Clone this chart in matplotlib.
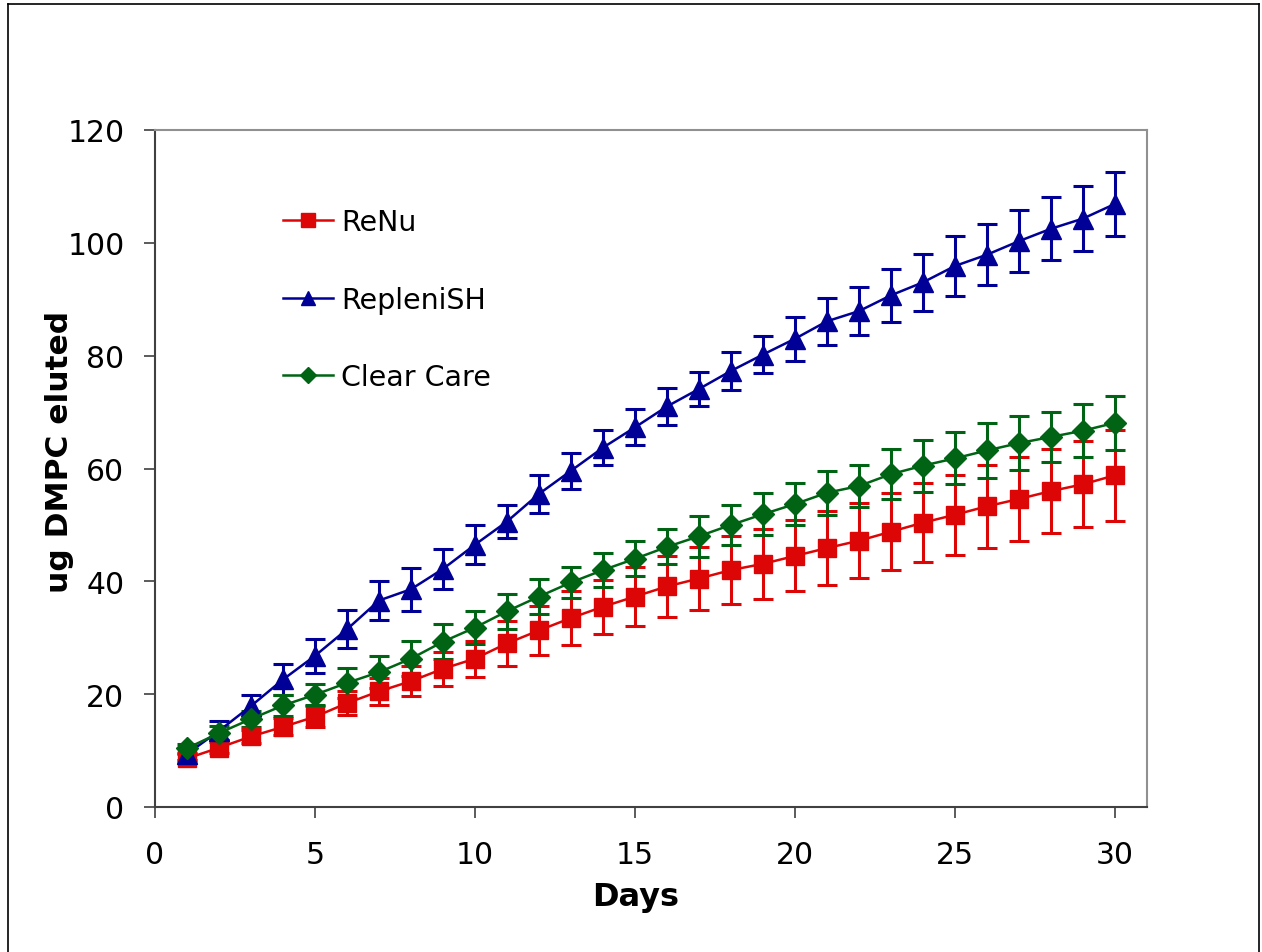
import matplotlib
matplotlib.use("Agg")
import matplotlib.pyplot as plt
from matplotlib.lines import Line2D
import numpy as np

days = list(range(1, 31))

renu = [8.6, 10.5, 12.5, 14.2, 16.0, 18.4, 20.5, 22.3, 24.5, 26.3,
        29.0, 31.3, 33.5, 35.5, 37.3, 39.1, 40.5, 42.0, 43.1, 44.5,
        45.9, 47.2, 48.8, 50.4, 51.8, 53.3, 54.6, 56.0, 57.2, 58.8]
renu_err = [0.8, 1.0, 1.2, 1.5, 1.9, 2.1, 2.4, 2.7, 3.0, 3.2,
            4.0, 4.3, 4.7, 4.8, 5.2, 5.4, 5.6, 6.0, 6.2, 6.3,
            6.5, 6.6, 6.8, 7.0, 7.1, 7.4, 7.5, 7.5, 7.6, 8.1]

repleni = [9.4, 13.5, 17.9, 22.6, 26.8, 31.5, 36.6, 38.6, 42.2, 46.5,
           50.6, 55.5, 59.6, 63.7, 67.3, 71.0, 74.1, 77.3, 80.2, 83.0,
           86.1, 87.9, 90.7, 93.0, 95.9, 97.9, 100.3, 102.5, 104.3, 106.9]
repleni_err = [1.0, 1.7, 1.9, 2.8, 3.0, 3.4, 3.5, 3.8, 3.5, 3.4,
               2.9, 3.3, 3.2, 3.1, 3.2, 3.3, 3.0, 3.3, 3.3, 3.9,
               4.2, 4.3, 4.7, 5.1, 5.3, 5.4, 5.5, 5.6, 5.8, 5.7]

clear = [10.4, 13.1, 15.6, 18.0, 19.9, 22.0, 23.9, 26.3, 29.3, 31.8,
         34.7, 37.3, 39.8, 42.0, 44.0, 46.1, 48.0, 50.0, 51.9, 53.7,
         55.7, 56.9, 59.0, 60.5, 61.8, 63.2, 64.5, 65.6, 66.7, 68.1]
clear_err = [0.8, 1.2, 1.5, 1.8, 1.9, 2.6, 2.8, 3.1, 3.1, 2.9,
             3.1, 3.1, 2.8, 3.0, 3.1, 3.1, 3.6, 3.5, 3.7, 3.7,
             3.9, 3.8, 4.4, 4.6, 4.6, 4.8, 4.8, 4.5, 4.7, 4.8]

labels = ["ReNu", "RepleniSH", "Clear Care"]
xticks = [0, 5, 10, 15, 20, 25, 30]
yticks = [0, 20, 40, 60, 80, 100, 120]

RED = "#DD0606"
BLUE = "#000096"
GREEN = "#006414"

plt.rcParams['font.family'] = ['DejaVu Sans']

fig = plt.figure(figsize=(12.62, 9.53), dpi=100)
ax = fig.add_axes([155/1262, 1-808/953, (1147-155)/1262, (808-131)/953])

series = [
    (renu, renu_err, RED, 's', 13.5, 10),
    (repleni, repleni_err, BLUE, '^', 14, 10),
    (clear, clear_err, GREEN, 'D', 11, 8),
]
for (vals, errs, col, mk, ms, lms), lab in zip(series, labels):
    ax.errorbar(days, vals, yerr=errs, color=col, ecolor=col, marker=mk,
                markersize=ms, linewidth=1.8, elinewidth=2.2, capsize=7,
                capthick=2.2, label=lab, markeredgecolor=col,
                markerfacecolor=col)

ax.set_xlim(0, 31)
ax.set_ylim(0, 120)
ax.set_xticks(xticks)
ax.set_yticks(yticks)
ax.tick_params(axis='both', labelsize=21.5, direction='out', length=8,
               width=1.2, color='#404040')
ax.tick_params(axis='y', pad=14)
ax.tick_params(axis='x', pad=16)
for side in ['top', 'right']:
    ax.spines[side].set_color('#909090')
    ax.spines[side].set_linewidth(1.5)
for side in ['left', 'bottom']:
    ax.spines[side].set_color('#404040')
    ax.spines[side].set_linewidth(1.5)

ax.set_xlabel("Days", fontsize=23, fontweight='bold')
ax.set_ylabel("ug DMPC eluted", fontsize=22.5, fontweight='bold')
ax.xaxis.set_label_coords((636-155)/992, -(882-808)/677)
ax.yaxis.set_label_coords((74-155)/992, (808-452)/677)

handles = []
for (vals, errs, col, mk, ms, lms), lab in zip(series, labels):
    handles.append(Line2D([0], [0], color=col, marker=mk, markersize=lms,
                          linewidth=1.8, markeredgecolor=col, label=lab))
leg = ax.legend(handles=handles, loc='upper left',
                bbox_to_anchor=(0.103, 0.923), frameon=False, fontsize=20.5,
                handlelength=1.75, handletextpad=0.3, labelspacing=1.75)

# outer frame
fig.add_artist(Line2D([8/1262, 8/1262], [0, 1-5/953], color='black', lw=1.2,
                      transform=fig.transFigure))
fig.add_artist(Line2D([1259/1262, 1259/1262], [0, 1-5/953], color='black', lw=1.2,
                      transform=fig.transFigure))
fig.add_artist(Line2D([8/1262, 1259/1262], [1-5/953, 1-5/953], color='black', lw=1.2,
                      transform=fig.transFigure))

fig.savefig("out.png", dpi=100)
